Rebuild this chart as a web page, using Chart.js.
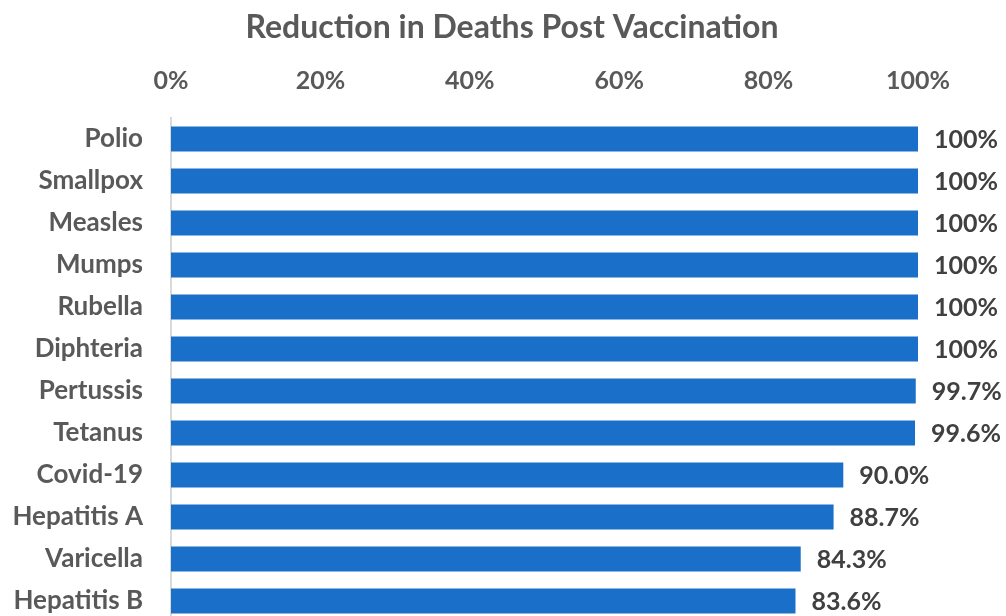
<!DOCTYPE html>
<html>
<head>
<meta charset="utf-8">
<script src="https://cdn.jsdelivr.net/npm/chart.js@4"></script>
<style>
  html, body { margin: 0; padding: 0; background: #fff; overflow: hidden; }
  canvas { display: block; }
</style>
</head>
<body>
<canvas id="grafico" width="1006" height="622"></canvas>
<script>
var titolo = 'Reduction in Deaths Post Vaccination';
var vaccini = ['Polio', 'Smallpox', 'Measles', 'Mumps', 'Rubella', 'Diphteria',
    'Pertussis', 'Tetanus', 'Covid-19', 'Hepatitis A', 'Varicella', 'Hepatitis B'];
var riduzione = [100, 100, 100, 100, 100, 100, 99.7, 99.6, 90.0, 88.7, 84.3, 83.6];
var etichette = ['100%', '100%', '100%', '100%', '100%', '100%',
    '99.7%', '99.6%', '90.0%', '88.7%', '84.3%', '83.6%'];

var font = 'Lato';

// scrive il valore a destra di ogni barra e il titolo
var valoriBarre = {
    id: 'valoriBarre',
    afterDatasetsDraw: function(chart) {
        var ctx = chart.ctx;
        var meta = chart.getDatasetMeta(0);
        ctx.save();
        ctx.font = 'bold 25px ' + font;
        ctx.fillStyle = '#404040';
        ctx.textAlign = 'left';
        ctx.textBaseline = 'middle';
        meta.data.forEach(function(bar, i) {
            ctx.fillText(etichette[i], bar.x + 16, bar.y + 1);
        });
        ctx.font = 'bold 32px ' + font;
        ctx.fillStyle = '#595959';
        ctx.textAlign = 'center';
        ctx.fillText(titolo, 512, 28);
        ctx.restore();
    }
};

var ctx = document.getElementById('grafico');
var chart = new Chart(ctx, {
    type: 'bar',
    data: {
        labels: vaccini,
        datasets: [{
            data: riduzione,
            backgroundColor: '#1a70c8',
            categoryPercentage: 1,
            barPercentage: 0.6
        }]
    },
    options: {
        indexAxis: 'y',
        responsive: false,
        animation: false,
        layout: { padding: { left: 0, right: 88, top: 54, bottom: 0 } },
        plugins: {
            legend: { display: false },
            tooltip: { enabled: false },
            title: { display: false }
        },
        scales: {
            x: {
                position: 'top',
                min: 0,
                max: 100,
                grid: { display: false, drawTicks: false },
                border: { display: false },
                ticks: {
                    stepSize: 20,
                    color: '#595959',
                    padding: 22,
                    font: { family: font, size: 25, weight: 'bold' },
                    callback: function(v) { return v + '%'; }
                },
                afterFit: function(scale) { scale.height = 64; }
            },
            y: {
                grid: { display: false, drawTicks: false },
                border: { display: true, color: '#d9d9d9', width: 2 },
                ticks: {
                    color: '#595959',
                    padding: 28,
                    font: { family: font, size: 26, weight: 'bold' }
                },
                afterFit: function(scale) {
                    scale.width = 171;
                    scale.paddingTop = 0;
                    scale.paddingBottom = 0;
                }
            }
        }
    },
    plugins: [valoriBarre]
});
</script>
</body>
</html>
